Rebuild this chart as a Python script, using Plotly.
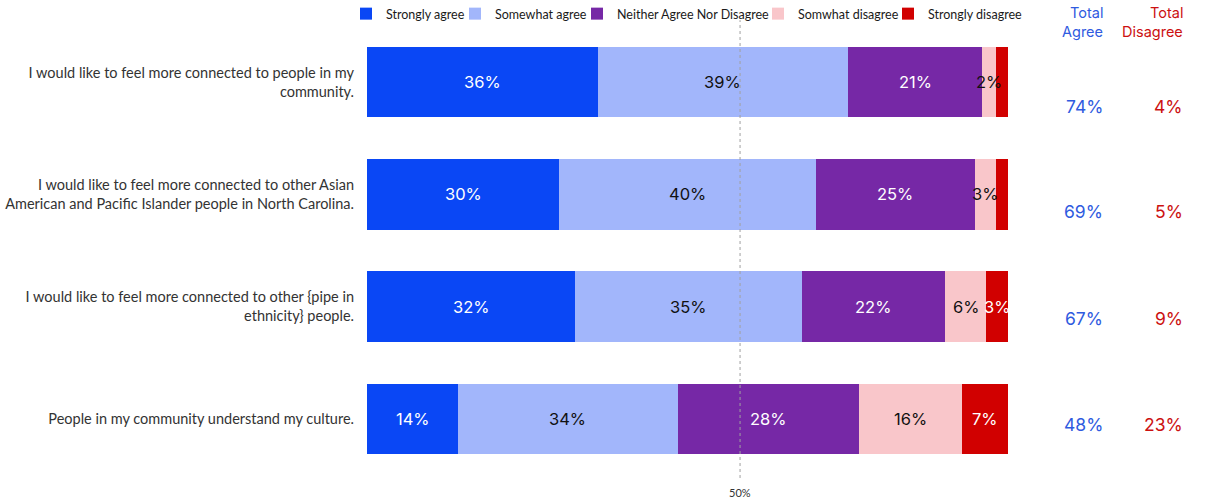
import plotly.graph_objects as go

# ---- data ----
statements = [
    "I would like to feel more connected to people in my<br>community.",
    "I would like to feel more connected to other Asian<br>American and Pacific Islander people in North Carolina.",
    "I would like to feel more connected to other {pipe in<br>ethnicity} people.",
    "People in my community understand my culture.",
]
series_names = ["Strongly agree", "Somewhat agree", "Neither Agree Nor Disagree",
                "Somwhat disagree", "Strongly disagree"]
strongly_agree = [36.0, 30.0, 32.4, 14.2]
somewhat_agree = [39.0, 40.0, 35.4, 34.3]
neither = [21.0, 24.8, 22.4, 28.2]
somewhat_disagree = [2.1, 3.3, 6.4, 16.1]
strongly_disagree = [1.9, 1.9, 3.4, 7.2]
total_agree = [74, 69, 67, 48]
total_disagree = [4, 5, 9, 23]

series_values = [strongly_agree, somewhat_agree, neither, somewhat_disagree, strongly_disagree]
colors = ["#0A47F5", "#A2B6FB", "#7628A6", "#F9C6CA", "#D10000"]
label_colors = ["#FFFFFF", "#111111", "#FFFFFF", "#111111", "#FFFFFF"]
legend_widths = [64, 77, 136, 85, 92]

rows = list(range(len(statements)))

fig = go.Figure()
for name, vals, col, lw in zip(series_names, series_values, colors, legend_widths):
    fig.add_trace(go.Bar(
        y=rows, x=vals, name=name, orientation="h",
        marker=dict(color=col, line=dict(width=0)),
        width=0.63, hoverinfo="x+name", legendwidth=lw,
    ))

annotations = []
# segment labels (computed from the cumulative data)
for i in rows:
    left = 0.0
    for vals, lc in zip(series_values, label_colors):
        v = vals[i]
        if v >= 2:
            annotations.append(dict(
                x=left + v / 2, y=i, xref="x", yref="y",
                text=f"{round(v)}%", showarrow=False,
                font=dict(family="Inter", size=16.5, color=lc),
            ))
        left += v

# totals columns
x_agree = 1.151
x_dis = 1.276
blue_t = "#2F5BE0"
red_t = "#CC1111"
for txt, xx, yy, col in [("Total", x_agree, 1.0301, blue_t), ("Agree", x_agree, 0.98775, blue_t),
                         ("Total", x_dis, 1.0301, red_t), ("Disagree", x_dis, 0.98775, red_t)]:
    annotations.append(dict(x=xx, y=yy, xref="paper", yref="paper", text=txt,
                            showarrow=False, yanchor="middle",
                            font=dict(family="Inter", size=14.5, color=col)))
shifts = [-24, -17, -12, -6]
for i in rows:
    annotations.append(dict(x=x_agree, y=i, xref="paper", yref="y", text=f"{total_agree[i]}%",
                            showarrow=False, yshift=shifts[i],
                            font=dict(family="Inter", size=17.5, color=blue_t)))
    annotations.append(dict(x=x_dis, y=i, xref="paper", yref="y", text=f"{total_disagree[i]}%",
                            showarrow=False, yshift=shifts[i],
                            font=dict(family="Inter", size=17.5, color=red_t)))

# 50% reference label
annotations.append(dict(x=0.582, y=-0.038, xref="paper", yref="paper", text="50%",
                        showarrow=False, yanchor="middle",
                        font=dict(family="Lato", size=11, color="#333333")))

fig.update_layout(
    width=1226, height=500,
    margin=dict(l=367, r=218, t=26, b=25, autoexpand=False),
    barmode="stack",
    plot_bgcolor="white", paper_bgcolor="white",
    bargap=0,
    showlegend=True,
    legend=dict(orientation="h", x=-0.0328, xanchor="left", y=1.0267, yanchor="middle",
                font=dict(family="Lato", size=12.5, color="#1A1A1A"),
                traceorder="normal", bgcolor="rgba(0,0,0,0)"),
    xaxis=dict(range=[0, 100], visible=False, fixedrange=True),
    yaxis=dict(range=[3.5, -0.5], tickvals=rows, ticktext=statements,
               showgrid=False, zeroline=False, showline=False,
               ticklabelstandoff=12,
               tickfont=dict(family="Lato", size=14.5, color="#333333")),
    annotations=annotations,
    shapes=[dict(type="line", xref="paper", yref="paper", x0=0.582, x1=0.582,
                 y0=-0.0067, y1=1.013, layer="above",
                 line=dict(color="#A0A0A0", width=1, dash="3px,3px"))],
)

fig.write_html("out.html", config={"displayModeBar": False},
               post_script="document.body.style.margin='0';")
